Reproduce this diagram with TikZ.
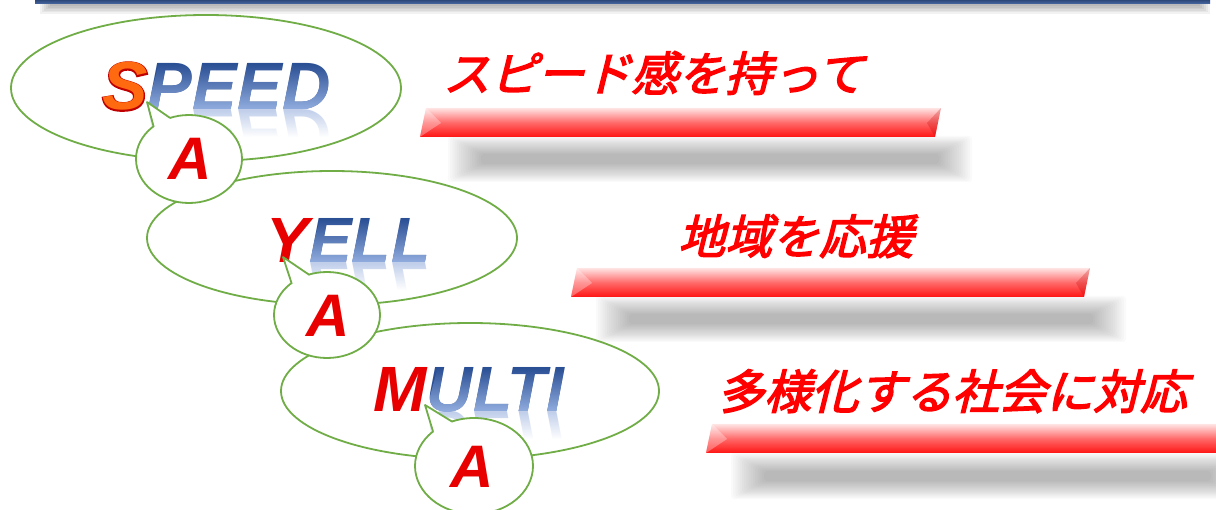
\documentclass[tikz,border=0pt]{standalone}
\usepackage{fontspec}
\newfontfamily\lsans{Liberation Sans}
\newfontfamily\lsansfat{Liberation Sans}[FakeBold=3.5]
\newfontfamily\cjk{Noto Sans CJK JP}[FakeSlant=0.25,FakeBold=3]
\usetikzlibrary{shapes.geometric,calc,fadings}
\definecolor{eg}{HTML}{70AD47}
\definecolor{btop}{HTML}{2A4F94}
\definecolor{bbot}{HTML}{93AEE0}
\definecolor{bref}{HTML}{8FA9DC}
\definecolor{rd}{HTML}{E80000}
\definecolor{rdk}{HTML}{C00000}
\definecolor{sor}{HTML}{FF6A10}
\definecolor{navytop}{HTML}{1F3864}
\definecolor{navybot}{HTML}{4A6AA5}
\definecolor{bartop}{HTML}{FFE4E4}
\definecolor{barmid}{HTML}{FF6A6A}
\definecolor{barbot}{HTML}{FF1414}
\definecolor{jred}{HTML}{FF0000}
\tikzset{
  big/.style={ellipse, draw=eg, line width=1.8pt, fill=white, inner sep=0pt},
  callout/.style={ellipse, draw=eg, line width=1.8pt, fill=white, inner sep=0pt},
  tail/.style={draw=eg, line width=1.8pt, line join=round, line cap=round},
  wfont/.style={font=\lsans\bfseries\itshape\fontsize{#1}{#1}\selectfont, inner sep=0pt, anchor=base west, text depth=0pt},
  wfat/.style={font=\lsansfat\bfseries\itshape\fontsize{#1}{#1}\selectfont, inner sep=0pt, anchor=base west, text depth=0pt},
  afont/.style={font=\lsans\bfseries\itshape\fontsize{60}{60}\selectfont, inner sep=0pt, anchor=base, text=rd},
  jp/.style={font=\cjk\fontsize{47}{47}\selectfont, text=jred, inner sep=0pt, anchor=base west},
  barshade/.style={top color=bartop, bottom color=barbot, middle color=barmid, draw=none}
}
\newcommand\softshadow[4]{%
  \foreach \k in {0,...,15}{%
    \fill[black, opacity=0.018, rounded corners=3pt] (#1+\k*2.2, #2+\k*1.2) rectangle (#3-\k*2.2, #4-\k*1.2);
  }}
% blue gradient word with reflection: #1 name, #2 anchor coordinate, #3 text, #4 size
\newcommand\gradword[4]{%
  \node[wfont=#4, text=btop] (#1) at (#2) {#3};
  \shade[blend mode=lighten, top color=btop, bottom color=bbot]
    ($(#1.base west)+(-1,0)$) -- ($(#1.base east)+(2,0)$) -- ($(#1.north east)+(14,0)$) -- ($(#1.north west)+(11,0)$) -- cycle;
  \begin{scope}
    \clip ($(#1.base west)+(-14,0)$) rectangle ($(#1.base east)+(4,27)$);
    \node[wfont=#4, text=bref, opacity=0.55, yscale=-1] (#1r) at (#1.base west) {#3};
    \fill[white, path fading=north] ($(#1.base west)+(-14,0)$) rectangle ($(#1.base east)+(4,27)$);
  \end{scope}
}
\begin{document}
\begin{tikzpicture}[x=1pt,y=-1pt]
\useasboundingbox (0,0) rectangle (1216,510);
% top bar
\foreach \k in {0,...,5}{\fill[black, opacity=0.05] (40+\k*2,4) rectangle (1210-\k*2,14-\k*1.6);}
\shade[top color=navytop, bottom color=navybot] (35,-2) rectangle (1210,4);
% bar shadows
\softshadow{448}{136}{972}{182}
\softshadow{596}{296}{1126}{342}
\softshadow{731}{453}{1244}{499}
% red bars
\shade[barshade] (420,137) -- (426,108) -- (941,108) -- (935,137) -- cycle;
\fill[white, opacity=0.3] (426,108) -- (441,123) -- (420,137) -- cycle;
\fill[rdk, opacity=0.25] (941,108) -- (927,123) -- (935,137) -- cycle;
\shade[barshade] (571,297) -- (577,268) -- (1090,268) -- (1084,297) -- cycle;
\fill[white, opacity=0.3] (577,268) -- (592,283) -- (571,297) -- cycle;
\fill[rdk, opacity=0.25] (1090,268) -- (1076,283) -- (1084,297) -- cycle;
\shade[barshade] (706,453) -- (712,424) -- (1240,424) -- (1234,453) -- cycle;
\fill[white, opacity=0.3] (712,424) -- (727,439) -- (706,453) -- cycle;
% Japanese texts
\node[jp] (t1) at (443,91) {スピード感を持って};
\node[jp] (t2) at (678,254) {地域を応援};
\node[jp] (t3) at (717,409) {多様化する社会に対応};
% big ellipses
\node[big, minimum width=390pt, minimum height=146pt] (e1) at (206,88) {};
\node[big, minimum width=370pt, minimum height=134pt] (e2) at (332,238) {};
\node[big, minimum width=378pt, minimum height=136pt] (e3) at (470,391) {};
% SPEED
\node[wfat=68, text=rdk] (so) at (102,110) {S};
\node[wfont=68, text=sor] (s) at (102,110) {S};
\gradword{peed}{s.base east}{PEED}{67}
% YELL
\node[wfont=64, text=rd] (y) at (266,263) {Y};
\gradword{ell}{y.base east}{ELL}{64}
% MULTI
\node[wfont=64, text=rd] (m) at (373,412) {M};
\gradword{ulti}{m.base east}{ULTI}{64}
% callout A1
\node[callout, minimum width=106pt, minimum height=88pt] (a1) at (189,159) {};
\path (a1.center) +(-132:53 and 44) coordinate (a1p) +(-111:53 and 44) coordinate (a1q) +(-121:40 and 32) coordinate (a1i);
\coordinate (a1t) at (147,102);
\fill[white] (a1t) -- (a1p) -- (a1i) -- (a1q) -- cycle;
\draw[tail] (a1p) -- (a1t) -- (a1q);
\node[afont] (a1x) at (190,180) {A};
% callout A2
\node[callout, minimum width=106pt, minimum height=86pt] (a2) at (327,315) {};
\path (a2.center) +(-132:53 and 43) coordinate (a2p) +(-110:53 and 43) coordinate (a2q) +(-121:40 and 31) coordinate (a2i);
\coordinate (a2t) at (283,257);
\fill[white] (a2t) -- (a2p) -- (a2i) -- (a2q) -- cycle;
\draw[tail] (a2p) -- (a2t) -- (a2q);
\node[afont] (a2x) at (328,337) {A};
% callout A3
\node[callout, minimum width=118pt, minimum height=96pt] (a3) at (474,466) {};
\path (a3.center) +(-134:59 and 48) coordinate (a3p) +(-112:59 and 48) coordinate (a3q) +(-123:45 and 36) coordinate (a3i);
\coordinate (a3t) at (425,405);
\fill[white] (a3t) -- (a3p) -- (a3i) -- (a3q) -- cycle;
\draw[tail] (a3p) -- (a3t) -- (a3q);
\node[afont] (a3x) at (472,487) {A};
\end{tikzpicture}
\end{document}
